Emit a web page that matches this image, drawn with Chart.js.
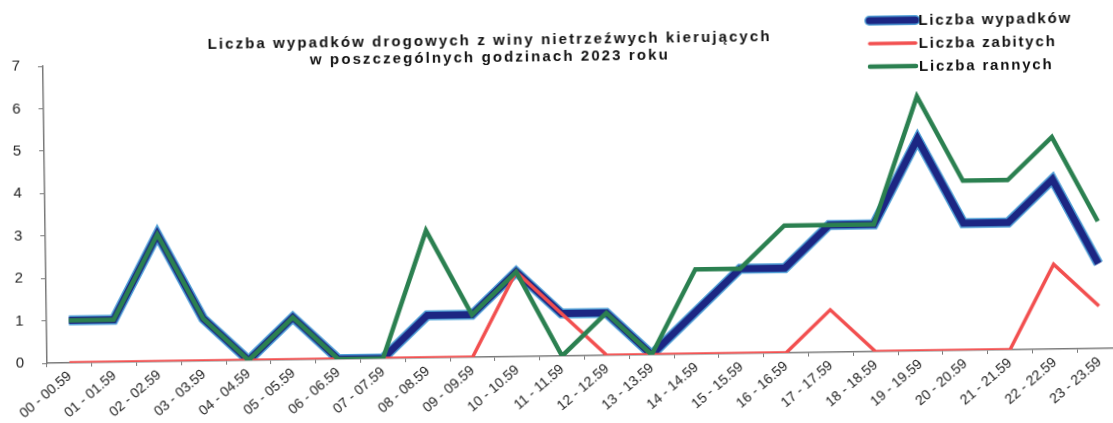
<!DOCTYPE html>
<html lang="pl">
<head>
<meta charset="utf-8">
<title>Wypadki drogowe – nietrzeźwi kierujący 2023</title>
<script src="https://cdn.jsdelivr.net/npm/chart.js@4/dist/chart.umd.min.js"></script>
<style>
  html, body { margin: 0; padding: 0; background: #fff; overflow: hidden; }
  #wrap { position: absolute; left: 0; top: 0; width: 1122px; height: 423px; transform: rotate(-0.8deg); }
</style>
</head>
<body>
<div id="wrap"><canvas id="wykres" width="1122" height="423"></canvas></div>
<script>
// godziny doby
const godziny = ['00 - 00.59', '01 - 01.59', '02 - 02.59', '03 - 03.59', '04 - 04.59', '05 - 05.59',
  '06 - 06.59', '07 - 07.59', '08 - 08.59', '09 - 09.59', '10 - 10.59', '11 - 11.59',
  '12 - 12.59', '13 - 13.59', '14 - 14.59', '15 - 15.59', '16 - 16.59', '17 - 17.59',
  '18 - 18.59', '19 - 19.59', '20 - 20.59', '21 - 21.59', '22 - 22.59', '23 - 23.59'];
const wypadki = [1, 1, 3, 1, 0, 1, 0, 0, 1, 1, 2, 1, 1, 0, 1, 2, 2, 3, 3, 5, 3, 3, 4, 2];
const zabici  = [0, 0, 0, 0, 0, 0, 0, 0, 0, 0, 2, 1, 0, 0, 0, 0, 0, 1, 0, 0, 0, 0, 2, 1];
const ranni   = [1, 1, 3, 1, 0, 1, 0, 0, 3, 1, 2, 0, 1, 0, 2, 2, 3, 3, 3, 6, 4, 4, 5, 3];
const osY = [0, 1, 2, 3, 4, 5, 6, 7];

const tytul = ['Liczba wypadków drogowych z winy nietrzeźwych kierujących',
  'w poszczególnych godzinach 2023 roku'];
const FONT = '"Liberation Sans", Arial, sans-serif';

// tytul i legenda rysowane recznie, zeby legenda mogla zachodzic na obszar wykresu
const opisy = {
  id: 'opisy',
  afterDraw(chart) {
    const ctx = chart.ctx;
    ctx.save();
    ctx.fillStyle = '#111';
    ctx.font = 'bold 15px ' + FONT;
    ctx.letterSpacing = '2.1px';
    ctx.textAlign = 'center';
    ctx.textBaseline = 'middle';
    ctx.fillText(tytul[0], 492, 40);
    ctx.fillText(tytul[1], 492, 57);

    const pozycje = [
      { ds: [3, 2], y: 25 },
      { ds: [1], y: 48 },
      { ds: [0], y: 71 },
    ];
    ctx.textAlign = 'left';
    ctx.font = 'bold 15px ' + FONT;
    ctx.letterSpacing = '1.8px';
    pozycje.forEach((p) => {
      p.ds.forEach((i) => {
        const d = chart.data.datasets[i];
        ctx.strokeStyle = d.borderColor;
        ctx.lineWidth = d.borderWidth;
        ctx.lineCap = 'round';
        ctx.beginPath();
        ctx.moveTo(872, p.y);
        ctx.lineTo(918, p.y);
        ctx.stroke();
      });
      const nazwa = chart.data.datasets[p.ds[p.ds.length - 1]].label;
      ctx.fillText(nazwa, 921, p.y + 1);
    });
    ctx.restore();
  }
};

new Chart(document.getElementById('wykres'), {
  type: 'line',
  data: {
    labels: godziny,
    datasets: [
      { label: 'Liczba rannych', data: ranni, borderColor: '#2b8050', borderWidth: 4.5, order: 0 },
      { label: 'Liczba zabitych', data: zabici, borderColor: '#f24f4f', borderWidth: 3.5, order: 1 },
      { label: 'Liczba wypadków', data: wypadki, borderColor: '#1c2683', borderWidth: 7, order: 2 },
      { label: 'Liczba wypadków', data: wypadki, borderColor: '#4f9fd6', borderWidth: 10, order: 3 },
    ]
  },
  options: {
    responsive: false,
    animation: false,
    elements: { point: { radius: 0 }, line: { tension: 0, borderJoinStyle: 'miter' } },
    layout: { padding: { top: 59, right: 2, left: 0, bottom: 0 } },
    plugins: { legend: { display: false }, tooltip: { enabled: false } },
    scales: {
      x: {
        offset: true,
        afterFit(s) { s.height = 67; },
        border: { color: '#7a7a7a', width: 1.5 },
        grid: { offset: true, drawOnChartArea: false, tickLength: 4, color: '#7a7a7a' },
        ticks: {
          autoSkip: false, minRotation: 40, maxRotation: 40, padding: 1,
          color: '#222', font: { family: FONT, size: 14 }
        }
      },
      y: {
        min: 0, max: 7,
        afterFit(s) { s.width = 45; },
        afterBuildTicks(s) { s.ticks = osY.map((v) => ({ value: v })); },
        border: { color: '#7a7a7a', width: 1.5 },
        grid: { drawOnChartArea: false, tickLength: 5, color: '#7a7a7a' },
        ticks: { padding: 18, color: '#222', font: { family: FONT, size: 15 } }
      }
    }
  },
  plugins: [opisy]
});
</script>
</body>
</html>
